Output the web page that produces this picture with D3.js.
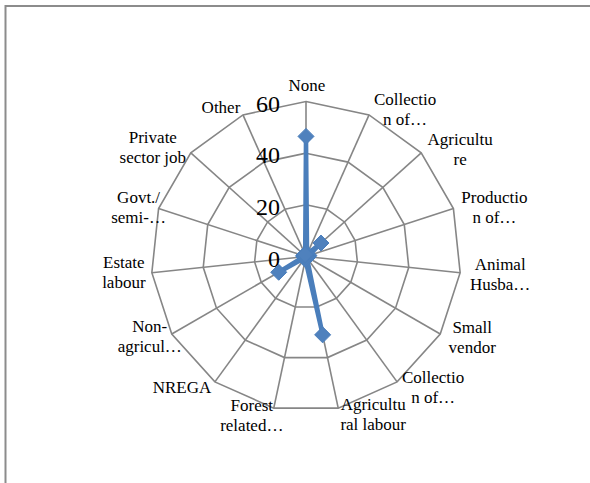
<!DOCTYPE html>
<html><head><meta charset="utf-8"><script src="https://cdn.jsdelivr.net/npm/d3@7"></script></head>
<body style="margin:0">
<script>
// ---- data ----
const categories = [
  "None", "Collectio\nn of…", "Agricultu\nre", "Productio\nn of…", "Animal\nHusba…",
  "Small\nvendor", "Collectio\nn of…", "Agricultu\nral labour", "Forest\nrelated…", "NREGA",
  "Non-\nagricul…", "Estate\nlabour", "Govt./\nsemi-…", "Private\nsector job", "Other"
];
const values = [46.5, 1, 7.8, 1.2, 0.8, 0.6, 0.6, 31, 1.2, 0.5, 12.2, 0.8, 1, 0.8, 0.8];
const tickValues = [0, 20, 40, 60];

// ---- layout (label offsets from each outer vertex: dx, first-baseline dy) ----
const labelDx = [1, 36, 39, 41, 40, 32, 36, 35, -22, -33, -22, -28, -20, -38, -22];
const labelDy = [-10.5, -10, -8, -5.6, -2.7, -1, 1, 2, 3, 11, -2, -4.7, -5.6, -10, -1.5];

const W = 590, H = 483;
const cx = 306, cy = 256.5, R = 155;

const svg = d3.select("body").append("svg").attr("width", W).attr("height", H)
  .style("display", "block")
  .style("font-family", '"Liberation Serif"');

// chart border (extends past right/bottom)
svg.append("rect")
  .attr("x", 5.5).attr("y", 6).attr("width", 700).attr("height", 600)
  .attr("fill", "none").attr("stroke", "#8c8c8c").attr("stroke-width", 2);

const r = d3.scaleLinear().domain([0, 60]).range([0, R]);
const angle = d3.scaleLinear().domain([0, categories.length]).range([0, 2 * Math.PI]);

const g = svg.append("g").attr("transform", `translate(${cx},${cy})`);

const pt = (i, v) => {
  const a = angle(i);
  return [r(v) * Math.sin(a), -r(v) * Math.cos(a)];
};

const gridColor = "#868686";

// rings
tickValues.filter(t => t > 0).forEach(t => {
  g.append("path")
    .attr("d", d3.lineRadial().angle((d, i) => angle(i)).radius(() => r(t)).curve(d3.curveLinearClosed)(categories))
    .attr("fill", "none").attr("stroke", gridColor).attr("stroke-width", 1.6);
});

// spokes
g.selectAll("line.spoke").data(categories).join("line")
  .attr("class", "spoke")
  .attr("x1", 0).attr("y1", 0)
  .attr("x2", (d, i) => pt(i, 60)[0])
  .attr("y2", (d, i) => pt(i, 60)[1])
  .attr("stroke", gridColor).attr("stroke-width", 1.6);

// tick labels
g.selectAll("text.tick").data(tickValues).join("text")
  .attr("class", "tick")
  .attr("x", -26)
  .attr("y", d => -r(d) + 10)
  .attr("text-anchor", "end")
  .style("font-family", '"Liberation Serif"')
  .style("font-size", "24px")
  .style("fill", "#000")
  .text(d => d);

// category labels (one text per line)
categories.forEach((d, i) => {
  const [vx, vy] = pt(i, 60);
  const x = vx + labelDx[i], y = vy + labelDy[i];
  g.selectAll(null).data(d.split("\n")).join("text")
    .attr("x", x).attr("y", (s, k) => y + k * 20)
    .attr("text-anchor", "middle")
    .style("font-family", '"Liberation Serif"')
    .style("font-size", "17px")
    .style("fill", "#000")
    .text(s => s);
});

// series
const seriesColor = "#4a7ebb";
g.append("path")
  .datum(values)
  .attr("d", d3.lineRadial().angle((d, i) => angle(i)).radius(d => r(d)).curve(d3.curveLinearClosed))
  .attr("fill", "none").attr("stroke", seriesColor).attr("stroke-width", 4.5)
  .attr("stroke-linejoin", "round");

const m = 8;
g.selectAll("path.marker").data(values).join("path")
  .attr("class", "marker")
  .attr("transform", (d, i) => `translate(${pt(i, d)[0]},${pt(i, d)[1]})`)
  .attr("d", `M0,${-m}L${m},0L0,${m}L${-m},0Z`)
  .attr("fill", "#4f81bd").attr("stroke", seriesColor).attr("stroke-width", 1);
</script>
</body></html>
